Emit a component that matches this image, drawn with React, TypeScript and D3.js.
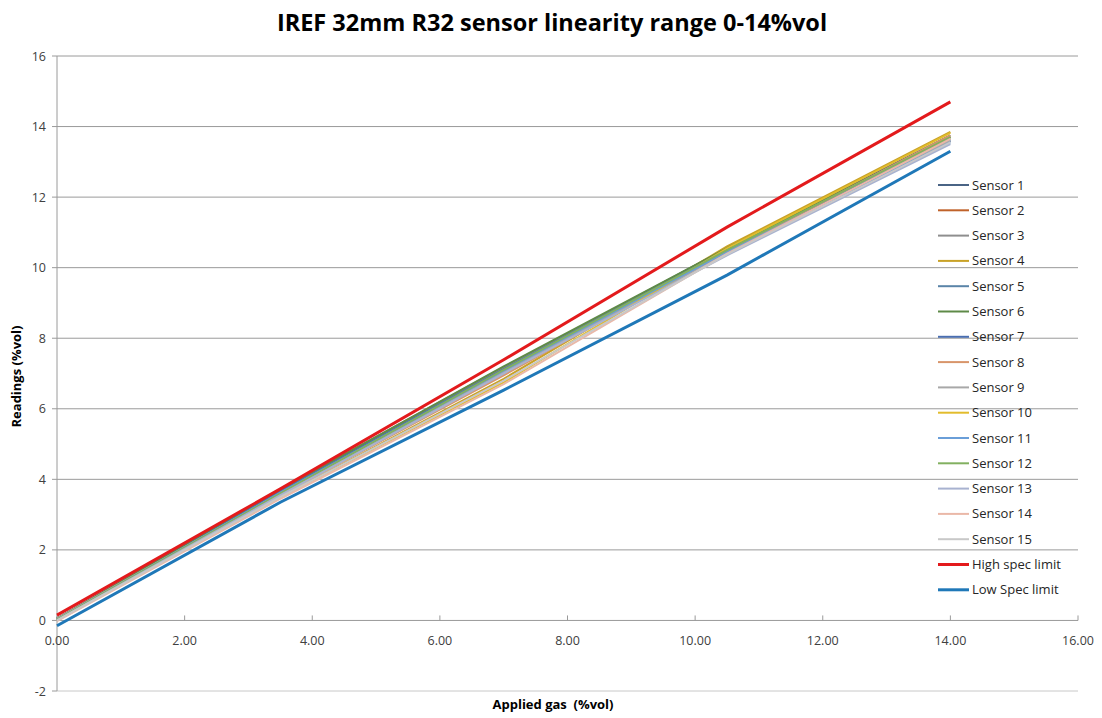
import React from "react";
import * as d3 from "d3";

const xPoints = [0, 3.5, 7, 10.5, 14];
const xTicks = [0, 2, 4, 6, 8, 10, 12, 14, 16];
const yTicks = [-2, 0, 2, 4, 6, 8, 10, 12, 14, 16];

const seriesNames = [
  "Sensor 1", "Sensor 2", "Sensor 3", "Sensor 4", "Sensor 5",
  "Sensor 6", "Sensor 7", "Sensor 8", "Sensor 9", "Sensor 10",
  "Sensor 11", "Sensor 12", "Sensor 13", "Sensor 14", "Sensor 15",
  "High spec limit", "Low Spec limit",
];

const s1 = [0.05, 3.7, 7.15, 10.55, 13.75];
const s2 = [0.0, 3.6, 7.0, 10.45, 13.7];
const s3 = [0.05, 3.72, 7.18, 10.5, 13.65];
const s4 = [0.0, 3.5, 6.85, 10.6, 13.85];
const s5 = [0.05, 3.68, 7.12, 10.5, 13.6];
const s6 = [0.05, 3.7, 7.2, 10.55, 13.7];
const s7 = [0.0, 3.65, 7.1, 10.5, 13.6];
const s8 = [0.0, 3.55, 6.95, 10.45, 13.75];
const s9 = [0.05, 3.6, 7.05, 10.4, 13.6];
const s10 = [0.0, 3.5, 6.75, 10.55, 13.82];
const s11 = [0.0, 3.62, 7.08, 10.45, 13.55];
const s12 = [0.02, 3.6, 7.1, 10.5, 13.7];
const s13 = [0.0, 3.55, 7.0, 10.35, 13.5];
const s14 = [-0.02, 3.45, 6.7, 10.4, 13.65];
const s15 = [0.0, 3.5, 6.8, 10.38, 13.55];
const highSpec = [0.15, 3.73, 7.39, 11.15, 14.7];
const lowSpec = [-0.15, 3.35, 6.53, 9.79, 13.3];

const seriesValues = [s1, s2, s3, s4, s5, s6, s7, s8, s9, s10, s11, s12, s13, s14, s15, highSpec, lowSpec];

const colors = [
  "#4a6485", "#c0622a", "#8e8e8e", "#c9a227", "#5a84a8",
  "#5e8a48", "#4a6eb0", "#d8956a", "#a8a8a8", "#e2bc2c",
  "#6a9ed8", "#82b060", "#a8b2d0", "#eab8a8", "#c8c8c8",
  "#e31a1c", "#1f78b8",
];

const W = 1102;
const H = 718;
const left = 57, right = 1078, top = 56, bottom = 691;

export default function App() {
  const x = d3.scaleLinear().domain([0, 16]).range([left, right]);
  const y = d3.scaleLinear().domain([-2, 16]).range([bottom, top]);
  const line = d3.line<[number, number]>().x((d) => x(d[0])).y((d) => y(d[1]));
  const font = "'Open Sans', 'Liberation Sans', sans-serif";
  const legendX = 938;
  const legendY0 = 185;
  const legendStep = 25.3;

  return (
    <svg width={W} height={H} style={{ position: "absolute", left: 0, top: 0, background: "#fff" }} fontFamily={font}>
      <rect x={0} y={0} width={W} height={H} fill="#fff" />
      <text x={552} y={31} textAnchor="middle" fontSize={23.5} fontWeight="bold" fill="#000">
        IREF 32mm R32 sensor linearity range 0-14%vol
      </text>
      {yTicks.map((t) => (
        <g key={"y" + t}>
          {t !== 0 && (
            <line x1={left} x2={right} y1={y(t)} y2={y(t)} stroke={t === -2 ? "#c8c8c8" : "#9a9a9a"} strokeWidth={1} />
          )}
          <line x1={left - 5} x2={left} y1={y(t)} y2={y(t)} stroke="#9a9a9a" />
          <text x={left - 11} y={y(t) + 4.5} textAnchor="end" fontSize={12.5} fill="#404040">
            {t}
          </text>
        </g>
      ))}
      <line x1={left} x2={left} y1={top} y2={bottom} stroke="#9a9a9a" />
      <line x1={left} x2={right} y1={y(0)} y2={y(0)} stroke="#9a9a9a" />
      {xTicks.map((t) => (
        <g key={"x" + t}>
          <line x1={x(t)} x2={x(t)} y1={y(0) - 5} y2={y(0)} stroke="#9a9a9a" />
          <text x={x(t)} y={y(0) + 25} textAnchor="middle" fontSize={12.5} fill="#404040">
            {t.toFixed(2)}
          </text>
        </g>
      ))}
      {seriesValues.map((vals, i) => (
        <path
          key={"s" + i}
          d={line(xPoints.map((xv, j) => [xv, vals[j]] as [number, number])) || ""}
          fill="none"
          stroke={colors[i]}
          strokeWidth={i >= 15 ? 3 : 2}
        />
      ))}
      {seriesNames.map((name, i) => (
        <g key={"l" + i}>
          <line
            x1={legendX}
            x2={legendX + 31}
            y1={legendY0 + i * legendStep}
            y2={legendY0 + i * legendStep}
            stroke={colors[i]}
            strokeWidth={i >= 15 ? 3 : 2}
          />
          <text x={legendX + 34} y={legendY0 + i * legendStep + 4.5} fontSize={13} fill="#262626">
            {name}
          </text>
        </g>
      ))}
      <text x={553} y={709} textAnchor="middle" fontSize={13} fontWeight="bold" fill="#000" style={{ whiteSpace: "pre" }}>
        {"Applied gas  (%vol)"}
      </text>
      <text
        transform={`translate(21, ${(top + bottom) / 2 + 3}) rotate(-90)`}
        textAnchor="middle"
        fontSize={13}
        fontWeight="bold"
        fill="#000"
      >
        Readings (%vol)
      </text>
    </svg>
  );
}
